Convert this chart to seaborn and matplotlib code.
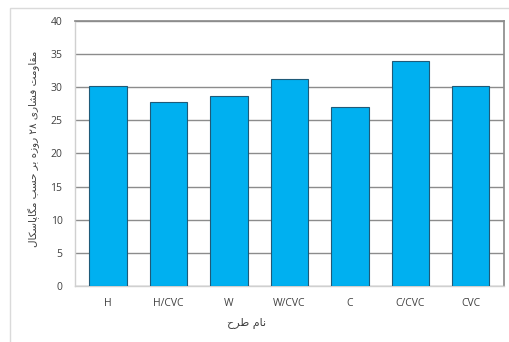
import re
import matplotlib
matplotlib.use("Agg")
import matplotlib.pyplot as plt
import seaborn as sns
import pandas as pd

# Mix designs and their 28-day compressive strength (MPa)
mixes = ["H", "H/CVC", "W", "W/CVC", "C", "C/CVC", "CVC"]
strength = [30.2, 27.8, 28.7, 31.2, 27.0, 34.0, 30.1]
y_ticks = [0, 5, 10, 15, 20, 25, 30, 35, 40]

y_title = "مقاومت فشاری ۲۸ روزه بر حسب مگاپاسکال"
x_title = "نام طرح"

# Contextual forms (isolated, final, initial, medial); right-joining letters have only two.
FORMS = {
    "ا": ("\uFE8D", "\uFE8E"),
    "ب": ("\uFE8F", "\uFE90", "\uFE91", "\uFE92"),
    "پ": ("\uFB56", "\uFB57", "\uFB58", "\uFB59"),
    "ت": ("\uFE95", "\uFE96", "\uFE97", "\uFE98"),
    "ح": ("\uFEA1", "\uFEA2", "\uFEA3", "\uFEA4"),
    "ر": ("\uFEAD", "\uFEAE"),
    "ز": ("\uFEAF", "\uFEB0"),
    "س": ("\uFEB1", "\uFEB2", "\uFEB3", "\uFEB4"),
    "ش": ("\uFEB5", "\uFEB6", "\uFEB7", "\uFEB8"),
    "ط": ("\uFEC1", "\uFEC2", "\uFEC3", "\uFEC4"),
    "ف": ("\uFED1", "\uFED2", "\uFED3", "\uFED4"),
    "ق": ("\uFED5", "\uFED6", "\uFED7", "\uFED8"),
    "ک": ("\uFB8E", "\uFB8F", "\uFB90", "\uFB91"),
    "گ": ("\uFB92", "\uFB93", "\uFB94", "\uFB95"),
    "ل": ("\uFEDD", "\uFEDE", "\uFEDF", "\uFEE0"),
    "م": ("\uFEE1", "\uFEE2", "\uFEE3", "\uFEE4"),
    "ن": ("\uFEE5", "\uFEE6", "\uFEE7", "\uFEE8"),
    "ه": ("\uFEE9", "\uFEEA", "\uFEEB", "\uFEEC"),
    "و": ("\uFEED", "\uFEEE"),
    "ی": ("\uFBFC", "\uFBFD", "\uFBFE", "\uFBFF"),
}


def shape_rtl(text):
    """Join Persian letters into their contextual forms and lay them out right to left."""
    out = []
    n = len(text)
    for i, ch in enumerate(text):
        if ch not in FORMS:
            out.append(ch)
            continue
        prev = text[i - 1] if i > 0 else ""
        nxt = text[i + 1] if i + 1 < n else ""
        join_prev = prev in FORMS and len(FORMS[prev]) == 4
        join_next = len(FORMS[ch]) == 4 and nxt in FORMS
        f = FORMS[ch]
        if join_prev and join_next:
            out.append(f[3])
        elif join_prev:
            out.append(f[1])
        elif join_next:
            out.append(f[2])
        else:
            out.append(f[0])
    visual = "".join(out)[::-1]
    # digit runs keep their left-to-right order
    return re.sub(r"[0-9\u06F0-\u06F9]+", lambda m: m.group(0)[::-1], visual)


df = pd.DataFrame({"mix": mixes, "strength": strength})

sns.set_theme(style="white")
plt.rcParams["font.family"] = ["Open Sans", "DejaVu Sans"]

fig = plt.figure(figsize=(5.10, 3.42), dpi=100)
ax = fig.add_axes([0.147, 0.164, 0.841, 0.775])

sns.barplot(data=df, x="mix", y="strength", color="#00B0F0", saturation=1,
            width=0.62, edgecolor="#1F5A78", linewidth=0.8, ax=ax, zorder=3)

ax.set_ylim(0, 40)
ax.set_yticks(y_ticks)
ax.set_yticklabels([str(t) for t in y_ticks])
ax.set_xlim(-0.55, len(mixes) - 0.45)
ax.yaxis.grid(True, color="#8C8C8C", linewidth=1.0, zorder=0)
ax.set_axisbelow(True)
ax.tick_params(axis="both", length=0, labelsize=7.5, labelcolor="#404040", pad=9)
ax.set_xlabel("")
ax.set_ylabel("")

for side in ["left", "bottom"]:
    ax.spines[side].set_color("#D0D0D0")
    ax.spines[side].set_linewidth(1.0)
ax.spines["right"].set_color("#8C8C8C")
ax.spines["top"].set_color("#8C8C8C")

fig.text(0.067, 0.565, shape_rtl(y_title), rotation=90, ha="center", va="center",
         fontsize=7.5, color="#404040", family=["DejaVu Sans"])
fig.text(0.484, 0.055, shape_rtl(x_title), ha="center", va="center",
         fontsize=8, color="#404040", family=["DejaVu Sans"])

# light frame around the chart area
frame = plt.Rectangle((10 / 510, -0.05), 1.2, (342 - 8) / 342 + 0.05,
                      transform=fig.transFigure, fill=False,
                      edgecolor="#DADADA", linewidth=1.0)
fig.add_artist(frame)

fig.savefig("out.png", dpi=100)
